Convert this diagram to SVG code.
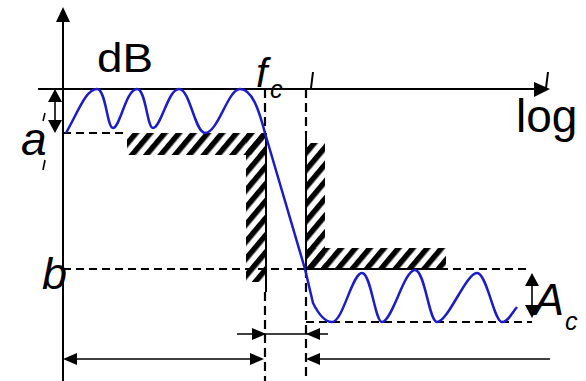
<svg xmlns="http://www.w3.org/2000/svg" width="586" height="381" viewBox="0 0 586 381">
<style>
.ax{stroke:#000;stroke-width:2;fill:none}
.sol{stroke:#000;stroke-width:2;fill:none}
.dash{stroke:#000;stroke-width:2;fill:none;stroke-dasharray:8,5}
.vdash{stroke:#000;stroke-width:2.2;fill:none;stroke-dasharray:9,5}
.thin{stroke:#000;stroke-width:1.6;fill:none}
.curve{stroke:#1c1cc8;stroke-width:2.5;fill:none;stroke-linejoin:round}
.lbl{font-family:"Liberation Sans",Arial,sans-serif;fill:#000}
.it{font-style:italic}
.hatch{fill:url(#hp)}
.head{fill:#000}
</style>
<defs>
<pattern id="hp" patternUnits="userSpaceOnUse" width="11" height="11" patternTransform="rotate(40)">
<rect x="0" y="0" width="5.5" height="11" fill="#000"/>
</pattern>
</defs>
<g id="axes">
<line class="ax" x1="63" y1="20" x2="63" y2="381"/>
<polygon class="head" points="63,7 56,22 70,22"/>
<line class="ax" x1="38" y1="89" x2="536" y2="89"/>
<polygon class="head" points="550,89 534,82 534,97"/>
</g>
<g id="passband-mask">
<rect class="hatch" x="127" y="133" width="138" height="22"/>
<rect class="hatch" x="246" y="133" width="19" height="149"/>
<line class="sol" x1="266" y1="133" x2="266" y2="292"/>
</g>
<g id="stopband-mask">
<rect class="hatch" x="306" y="143" width="19" height="126"/>
<rect class="hatch" x="306" y="248" width="140" height="21"/>
<line class="sol" x1="306" y1="133" x2="306" y2="269"/>
<line class="sol" x1="306" y1="269" x2="446" y2="269"/>
</g>
<g id="guides">
<line class="dash" x1="63" y1="133" x2="127" y2="133"/>
<line class="dash" x1="63" y1="269" x2="530" y2="269"/>
<line class="dash" x1="306" y1="322" x2="532" y2="322"/>
<line class="vdash" x1="265" y1="89" x2="265" y2="133"/>
<line class="vdash" x1="265" y1="292" x2="265" y2="381"/>
<line class="vdash" x1="306" y1="89" x2="306" y2="133"/>
<line class="vdash" x1="306" y1="269" x2="306" y2="381"/>
</g>
<g id="response">
<path class="curve" d="M66,133 C78,112 86,89 97,89 C106,89 107,128 113,128 C120,128 126,89 137,89 C146,89 147,128 153,128 C161,128 168,89 179,89 C190,89 195,133 205,133 C218,133 228,89 240,89 C252,89 259,110 265,133 L305,269"/>
<path class="curve" d="M305,269 L313,303 C318,313 325,322 332,322 C343,322 352,273 362,273 C371,273 375,322 382,322 C392,322 404,270 415,270 C425,270 429,322 437,322 C448,322 466,273 477,273 C487,273 494,322 502,322 C508,322 512,313 517,307"/>
</g>
<g id="connectors">
<line class="thin" x1="55" y1="100" x2="55" y2="122"/>
<polygon class="head" points="55,89 48,102 62,102"/>
<polygon class="head" points="55,133 48,120 62,120"/>
<line class="thin" x1="532" y1="284" x2="532" y2="306"/>
<polygon class="head" points="532,273 525,286 539,286"/>
<polygon class="head" points="532,318 525,305 539,305"/>
<line class="thin" x1="237" y1="334" x2="328" y2="334"/>
<polygon class="head" points="266,334 252,328 252,340"/>
<polygon class="head" points="306,334 320,328 320,340"/>
<line class="thin" x1="74" y1="359" x2="252" y2="359"/>
<polygon class="head" points="63,359 77,353 77,365"/>
<polygon class="head" points="264,359 250,353 250,365"/>
<line class="thin" x1="318" y1="359" x2="550" y2="359"/>
<polygon class="head" points="306,359 320,353 320,365"/>
</g>
<g id="fragments">
<line class="thin" x1="45" y1="113" x2="43" y2="121"/>
<line class="thin" x1="45" y1="160" x2="43" y2="170"/>
<line x1="313" y1="72" x2="311" y2="88" stroke="#000" stroke-width="2"/>
<line x1="548" y1="72" x2="546" y2="88" stroke="#000" stroke-width="2"/>
</g>
<g id="labels">
<text class="lbl" x="97" y="72" font-size="40" textLength="56" lengthAdjust="spacingAndGlyphs">dB</text>
<text class="lbl" x="516" y="132" font-size="46">log</text>
<text class="lbl it" x="21" y="155" font-size="46">a</text>
<text class="lbl it" x="42" y="289" font-size="45">b</text>
<text class="lbl it" x="256" y="87" font-size="41">f</text>
<text class="lbl it" x="270" y="98" font-size="25">c</text>
<text class="lbl it" x="534" y="315" font-size="45">A</text>
<text class="lbl it" x="565" y="330" font-size="25">c</text>
</g>
</svg>
